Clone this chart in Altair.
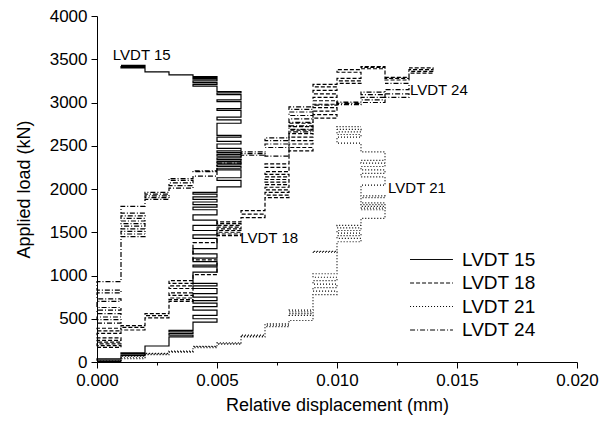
import altair as alt
import pandas as pd

# displacement is recorded in steps of 0.001 mm; each entry = (step index, load levels in kN)
STEP = 0.001
series_names = ["LVDT 15", "LVDT 18", "LVDT 21", "LVDT 24"]

lvdt15 = [
    (0, [5, 20, 35]),
    (1, [75, 90, 105]),
    (2, [185]),
    (3, [290, 310, 330, 350, 365]),
    (4, [460, 500, 540, 600, 640, 680, 710, 750, 790, 850, 880, 910, 1040, 1100, 1120, 1160,
         1200, 1250, 1310, 1430, 1470, 1520, 1580, 1640, 1700, 1760, 1790, 1820, 1850, 1880,
         1910, 1940, 1960]),
    (5, [2025, 2100, 2130, 2220, 2240, 2260, 2280, 2300, 2320, 2340, 2360, 2380, 2400, 2420,
         2440, 2470, 2520, 2550, 2600, 2620, 2760, 2800, 2830, 2910, 2930, 3010, 3030, 3090,
         3110, 3125]),
    (4, [3190, 3210, 3230, 3250, 3270, 3285, 3300]),
    (3, [3320]),
    (2, [3355]),
    (1, [3400, 3415, 3430]),
]

lvdt18 = [
    (0, [170, 190, 210, 230, 250, 280, 330, 360, 390]),
    (1, [370, 400, 420]),
    (2, [510, 535, 560]),
    (3, [700, 720, 740, 770, 800, 850, 880, 910, 940]),
    (4, [1010, 1180, 1380]),
    (5, [1460, 1480, 1500, 1520, 1540, 1560, 1580, 1600, 1620]),
    (6, [1670, 1710, 1750]),
    (7, [1900, 1930, 1960, 1990, 2020, 2050, 2080, 2110, 2140, 2170, 2200, 2250, 2290]),
    (8, [2440, 2480, 2520, 2560, 2600, 2640, 2680, 2720, 2760]),
    (9, [2820, 2860, 2900, 2940, 2980, 3020, 3060, 3100, 3140, 3180, 3210]),
    (10, [3220, 3250, 3280, 3350, 3380]),
    (11, [3390, 3405, 3415]),
    (12, [3280, 3260, 3290]),
    (13, [3340, 3360, 3380, 3400]),
]

lvdt21 = [
    (0, [10]),
    (1, [40, 55, 65]),
    (2, [85, 95, 100]),
    (3, [115, 120, 125]),
    (4, [165, 175, 180]),
    (5, [205, 212, 220]),
    (6, [290, 300, 310]),
    (7, [410, 425, 440]),
    (8, [480, 540, 560, 580, 600]),
    (9, [780, 820, 860, 900, 940, 980, 1020, 1270, 1280]),
    (10, [1390, 1430, 1460, 1490, 1520, 1550, 1580]),
    (11, [1660, 1760, 1780, 1800, 1820, 1840, 1900, 1920, 2045, 2140, 2180, 2220, 2260,
          2300, 2330, 2430]),
    (10, [2530, 2600, 2630, 2660, 2690, 2720]),
]

lvdt24 = [
    (0, [450, 490, 520, 560, 600, 630, 700, 730, 800, 830, 930]),
    (1, [1450, 1480, 1510, 1540, 1570, 1600, 1630, 1660, 1690, 1720, 1800]),
    (2, [1880, 1900, 1920, 1940, 1960]),
    (3, [2010, 2040, 2070, 2100, 2120]),
    (4, [2150, 2200, 2210]),
    (5, [2300]),
    (6, [2390, 2410, 2430]),
    (7, [2380, 2480, 2520, 2560, 2590]),
    (8, [2660, 2690, 2730, 2770, 2810, 2850, 2890, 2920, 2950]),
    (9, [2970]),
    (10, [2975, 2990, 3005]),
    (11, [3000, 3030, 3060, 3090, 3120]),
    (12, [3060, 3100, 3150, 3220]),
]

label_names = ["LVDT 15", "LVDT 18", "LVDT 21", "LVDT 24"]
label_x = [0.00066, 0.00597, 0.01213, 0.01304]
label_y = [3550, 1430, 2010, 3145]

x_ticks = [0, 0.0025, 0.005, 0.0075, 0.01, 0.0125, 0.015, 0.0175, 0.02]
y_ticks = list(range(0, 4001, 250))


def build(name, segs):
    rows = []
    p = None
    for b, levels in segs:
        for y in levels:
            if p == b:
                s, e = b, b + 1
            elif p == b + 1:
                s, e = b + 1, b
            elif p is None or p < b:
                s, e = b, b + 1
            else:
                s, e = b + 1, b
            rows.append((s * STEP, y))
            rows.append((e * STEP, y))
            p = e
    return pd.DataFrame({"x": [r[0] for r in rows], "y": [r[1] for r in rows],
                         "series": name, "i": range(len(rows))})


df = pd.concat([build(n, s) for n, s in zip(series_names, [lvdt15, lvdt18, lvdt21, lvdt24])],
               ignore_index=True)
labels = pd.DataFrame({"x": label_x, "y": label_y, "label": label_names})

FONT = "Liberation Sans"

x_axis = alt.Axis(
    values=x_ticks,
    labelExpr="abs(datum.value/0.005 - round(datum.value/0.005)) > 0.01 ? '' : format(datum.value, '.3f')",
    tickSize={"condition": {"test": "abs(datum.value/0.005 - round(datum.value/0.005)) > 0.01", "value": 3}, "value": 6},
    title="Relative displacement (mm)", grid=False, domainColor="black", tickColor="black",
    labelFont=FONT, titleFont=FONT, labelFontSize=17, titleFontSize=18, titleFontWeight="normal",
    labelColor="black", titleColor="black", labelPadding=4, titlePadding=8, labelFlush=False,
)
y_axis = alt.Axis(
    values=y_ticks,
    labelExpr="datum.value % 500 != 0 ? '' : format(datum.value, 'd')",
    tickSize={"condition": {"test": "datum.value % 500 != 0", "value": 3}, "value": 6},
    title="Applied load (kN)", grid=False, domainColor="black", tickColor="black",
    labelFont=FONT, titleFont=FONT, labelFontSize=17, titleFontSize=18, titleFontWeight="normal",
    labelColor="black", titleColor="black", labelPadding=4, titlePadding=16, labelFlush=False,
)

lines = alt.Chart(df).mark_line(strokeWidth=1.2, color="black", interpolate="linear").encode(
    x=alt.X("x:Q", scale=alt.Scale(domain=[0, 0.02], nice=False, zero=False), axis=x_axis),
    y=alt.Y("y:Q", scale=alt.Scale(domain=[0, 4000], nice=False), axis=y_axis),
    strokeDash=alt.StrokeDash(
        "series:N",
        scale=alt.Scale(domain=series_names, range=[[1, 0], [4, 2], [1, 2], [5, 2, 1, 2]]),
        legend=alt.Legend(title=None, orient="none", legendX=325, legendY=234,
                          symbolType="M-3.9,0L3.9,0", symbolSize=121, symbolStrokeWidth=1,
                          symbolStrokeColor="black", symbolFillColor="transparent",
                          labelFontSize=19, labelFont=FONT,
                          labelColor="black", rowPadding=3.5, labelOffset=21),
    ),
    order="i:Q",
)

texts = alt.Chart(labels).mark_text(align="left", baseline="middle", fontSize=15, font=FONT,
                                    color="black").encode(
    x="x:Q", y="y:Q", text="label:N")

chart = alt.layer(lines, texts).properties(
    width=480, height=346,
    padding={"left": 97, "top": 16, "right": 23, "bottom": 59},
    autosize=alt.AutoSizeParams(type="none"),
    background="white",
).configure_view(stroke=None)

chart.save("out.html", embed_options={"renderer": "svg", "actions": False})
